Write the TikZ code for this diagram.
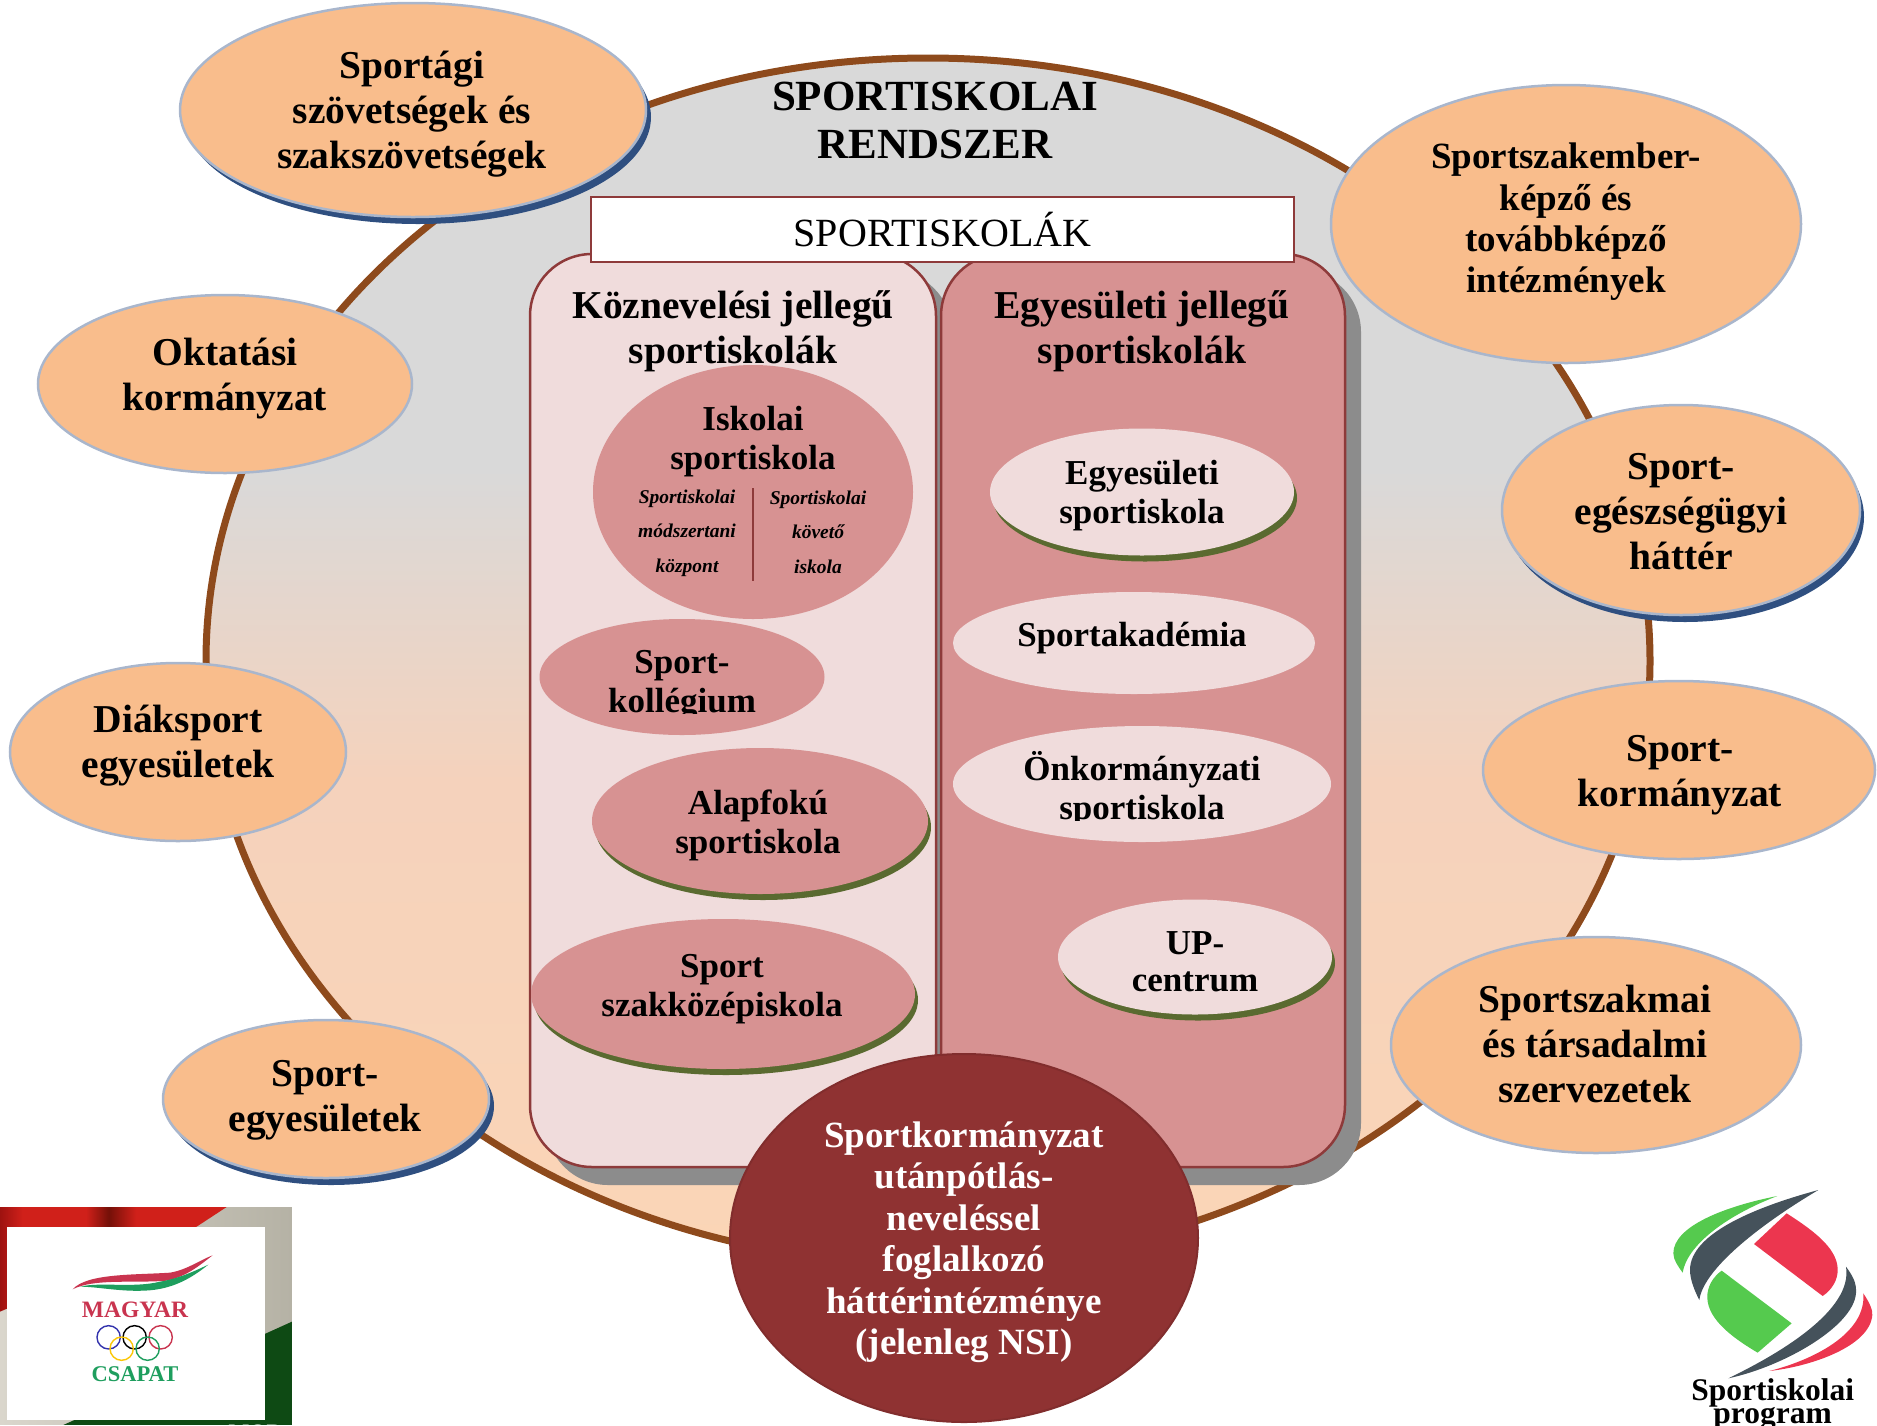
\documentclass[tikz,border=0pt]{standalone}
\usepackage{fontspec}
\setmainfont{Liberation Serif}
\usetikzlibrary{shapes.geometric}
\definecolor{brownring}{HTML}{8E4A1C}
\definecolor{peach}{HTML}{F9BD8C}
\definecolor{peachedge}{HTML}{A9B6CC}
\definecolor{navyshadow}{HTML}{2F4F80}
\definecolor{palepink}{HTML}{F0DCDC}
\definecolor{rose}{HTML}{D79292}
\definecolor{paneledge}{HTML}{8E3A3A}
\definecolor{darkred}{HTML}{8F3232}
\definecolor{olive}{HTML}{5A6A30}
\definecolor{ringA}{HTML}{FBD5B6}
\definecolor{ringB}{HTML}{F5D2BC}
\definecolor{ringC}{HTML}{D9D9D9}
\definecolor{rA}{HTML}{9E1210}
\definecolor{rB}{HTML}{D0201A}
\definecolor{rC}{HTML}{741008}
\definecolor{beigeA}{HTML}{DAD6CC}
\definecolor{beigeB}{HTML}{B5B2A5}
\definecolor{mobgreen}{HTML}{0E4A14}
\definecolor{mcred}{HTML}{C9344F}
\definecolor{mcgreen}{HTML}{1E9E5E}
\pgfdeclareverticalshading{ringfill}{100bp}{color(0bp)=(ringA); color(25bp)=(ringA); color(45bp)=(ringB); color(58bp)=(ringC); color(75bp)=(ringC); color(100bp)=(ringC)}
\pgfdeclarehorizontalshading{redband}{100bp}{color(0bp)=(rA); color(25bp)=(rA); color(30bp)=(rB); color(44bp)=(rB); color(49bp)=(rC); color(55bp)=(rB); color(75bp)=(rB); color(100bp)=(rB)}
\tikzset{
  x=1pt,y=-1pt,
  ell/.style={ellipse,inner sep=0pt,outer sep=0pt},
  outer/.style={ell,fill=peach,draw=peachedge,line width=2.5pt},
  navy/.style={ell,fill=navyshadow},
  oliveshadow/.style={ell,fill=olive},
  innerrose/.style={ell,fill=rose},
  innerpale/.style={ell,fill=palepink},
  lab/.style={align=center,inner sep=0pt,font=\fontsize{39.5}{45}\selectfont\bfseries},
  labsmall/.style={align=center,inner sep=0pt,font=\fontsize{35}{39}\selectfont\bfseries},
  labital/.style={align=center,inner sep=0pt,font=\fontsize{19.5}{34.5}\selectfont\bfseries\itshape},
  panel/.style={draw=paneledge,line width=2.5pt,rounded corners=62pt},
  panelshadow/.style={fill=black!45,rounded corners=62pt},
  ring/.style={draw=brownring,line width=7pt,shading=ringfill}
}
\begin{document}
\begin{tikzpicture}
\useasboundingbox (0,0) rectangle (1877,1425);
% main ring
\node[ell,ring,minimum width=1444pt,minimum height=1206pt] (ring) at (928,661) {};
% panels
\fill[panelshadow] (546,270) rectangle (952,1185);
\draw[panel,fill=palepink] (530,254) rectangle (936,1167);
\fill[panelshadow] (957,270) rectangle (1361,1185);
\draw[panel,fill=rose] (941,254) rectangle (1345,1167);
% header box
\node[draw=paneledge,fill=white,line width=2.5pt,minimum width=703pt,minimum height=65pt,inner sep=0pt,font=\fontsize{40}{45}\selectfont] (hdr) at (942.5,229.5) {SPORTISKOLÁK};
\node[align=center,inner sep=0pt,font=\fontsize{43}{48}\selectfont\bfseries] (title) at (935,120) {SPORTISKOLAI\\RENDSZER};
% panel headings
\node[lab] (kh) at (733,331) {Köznevelési jellegű\\sportiskolák};
\node[lab] (eh) at (1142,331) {Egyesületi jellegű\\sportiskolák};
% left inner
\node[innerrose,minimum width=320pt,minimum height=254pt] (isk) at (753,492) {};
\node[labsmall] (iskt) at (753,442) {Iskolai\\sportiskola};
\node[labital] (isa) at (687,533) {Sportiskolai\\módszertani\\központ};
\node[labital] (isb) at (818,532) {Sportiskolai\\követő\\iskola};
\coordinate (d1) at (753,488);
\coordinate (d2) at (753,581);
\draw[paneledge,line width=2pt] (d1) -- (d2);
\node[innerrose,minimum width=285pt,minimum height=116pt] (kol) at (682,677) {};
\begin{scope}
\clip (540,600) rectangle (830,713);
\node[labsmall] (kolt) at (682,685) {Sport-\\kollégium};
\end{scope}
\node[oliveshadow,minimum width=336pt,minimum height=146pt] (alaps) at (763,827) {};
\node[innerrose,minimum width=336pt,minimum height=146pt] (ala) at (760,821) {};
\node[labsmall] (alat) at (758,825) {Alapfokú\\sportiskola};
\node[oliveshadow,minimum width=384pt,minimum height=150pt] (szas) at (726,1000) {};
\node[innerrose,minimum width=384pt,minimum height=150pt] (sza) at (723,994) {};
\node[labsmall] (szat) at (722,989) {Sport\\szakközépiskola};
% right inner
\node[oliveshadow,minimum width=304pt,minimum height=127pt] (egys) at (1145,498) {};
\node[innerpale,minimum width=304pt,minimum height=127pt] (egy) at (1142,492) {};
\node[labsmall] (egyt) at (1142,496) {Egyesületi\\sportiskola};
\node[innerpale,minimum width=362pt,minimum height=102pt] (aka) at (1134,643) {};
\node[labsmall] (akat) at (1132,638) {Sportakadémia};
\node[innerpale,minimum width=378pt,minimum height=116pt] (onk) at (1142,784) {};
\begin{scope}
\clip (960,730) rectangle (1330,820);
\node[labsmall] (onkt) at (1142,789) {Önkormányzati\\sportiskola};
\end{scope}
\node[oliveshadow,minimum width=274pt,minimum height=115pt] (ups) at (1198,963) {};
\node[innerpale,minimum width=274pt,minimum height=115pt] (up) at (1195,957) {};
\node[labsmall,font=\fontsize{35}{37}\selectfont\bfseries] (upt) at (1195,962) {UP-\\centrum};
% outer ellipses
\node[navy,minimum width=466pt,minimum height=214pt] (sps) at (418,117) {};
\node[outer,minimum width=466pt,minimum height=214pt] (sp) at (413,110) {};
\node[lab] (spt) at (412,114) {Sportági\\szövetségek és\\szakszövetségek};
\node[outer,minimum width=470pt,minimum height=278pt] (szk) at (1566,224) {};
\node[labsmall,font=\fontsize{37}{41.3}\selectfont\bfseries] (szkt) at (1566,222) {Sportszakember-\\képző és\\továbbképző\\intézmények};
\node[outer,minimum width=374pt,minimum height=178pt] (okt) at (225,384) {};
\node[lab] (oktt) at (225,379) {Oktatási\\kormányzat};
\node[navy,minimum width=358pt,minimum height=210pt] (ees) at (1685,517) {};
\node[outer,minimum width=358pt,minimum height=210pt] (ee) at (1681,510) {};
\node[lab] (eet) at (1681,512) {Sport-\\egészségügyi\\háttér};
\node[outer,minimum width=336pt,minimum height=178pt] (dia) at (178,752) {};
\node[lab] (diat) at (178,746) {Diáksport\\egyesületek};
\node[outer,minimum width=392pt,minimum height=178pt] (kor) at (1679,770) {};
\node[lab] (kort) at (1680,775) {Sport-\\kormányzat};
\node[navy,minimum width=326pt,minimum height=158pt] (egs) at (331,1106) {};
\node[outer,minimum width=326pt,minimum height=158pt] (eg) at (326,1099) {};
\node[lab] (egt) at (325,1100) {Sport-\\egyesületek};
\node[outer,minimum width=410pt,minimum height=216pt] (tar) at (1596,1045) {};
\node[lab] (tart) at (1595,1044) {Sportszakmai\\és társadalmi\\szervezetek};
% central dark
\node[ell,fill=darkred,draw=darkred!90!black,line width=2pt,minimum width=468pt,minimum height=368pt] (nsi) at (964,1238) {};
\node[align=center,inner sep=0pt,text=white,font=\fontsize{37}{41.5}\selectfont\bfseries] (nsit) at (964,1242) {Sportkormányzat\\utánpótlás-\\neveléssel\\foglalkozó\\háttérintézménye\\(jelenleg NSI)};
% Magyar Csapat logo
\begin{scope}[shift={(0,1180)},x=0.3333pt,y=-0.3333pt]
\shade[left color=beigeA,right color=beigeB] (0,81) rectangle (876,735);
\shade[shading=redband] (0,81) -- (680,81) -- (590,140) -- (0,395) -- cycle;
\fill[mobgreen] (876,425) -- (876,735) -- (190,735) -- cycle;
\fill[white] (21,140) rectangle (795,720);
\fill[mcred] (218,328) .. controls (260,280) and (400,285) .. (510,278) .. controls (560,270) and (600,240) .. (638,226) .. controls (600,255) and (560,290) .. (500,302) .. controls (400,310) and (280,295) .. (218,328) -- cycle;
\fill[mcgreen] (240,320) .. controls (300,305) and (400,325) .. (480,305) .. controls (540,295) and (590,270) .. (625,254) .. controls (580,290) and (520,330) .. (430,332) .. controls (360,335) and (290,320) .. (240,320) -- cycle;
\node[inner sep=0pt,text=mcred,font=\fontsize{23.5}{24}\selectfont\bfseries] (mag) at (405,388) {MAGYAR};
\node[inner sep=0pt,text=mcgreen,font=\fontsize{22.5}{24}\selectfont\bfseries] (csa) at (405,582) {CSAPAT};
\draw[blue!60!black!80!white,line width=1.4pt] (326,472) ellipse[x radius=35,y radius=35];
\draw[black,line width=1.4pt] (404,472) ellipse[x radius=35,y radius=35];
\draw[mcred,line width=1.4pt] (482,472) ellipse[x radius=35,y radius=35];
\draw[yellow!60!orange,line width=1.4pt] (365,506) ellipse[x radius=35,y radius=35];
\draw[mcgreen,line width=1.4pt] (443,506) ellipse[x radius=35,y radius=35];
\node[inner sep=0pt,text=white,font=\fontsize{22}{24}\selectfont\bfseries] (mob) at (765,756) {MOB};
\end{scope}
% Sportiskolai program logo
\begin{scope}[shift={(1640,1170)},x=0.3333pt,y=-0.3333pt]
\definecolor{lg}{HTML}{55CA4E}
\definecolor{ld}{HTML}{45525B}
\definecolor{lr}{HTML}{EC364F}
\fill[lg] (412,78) .. controls (250,110) and (100,170) .. (100,250) .. controls (100,270) and (115,290) .. (128,308) .. controls (140,230) and (250,140) .. (412,78) -- cycle;
\fill[ld] (535,60) .. controls (350,110) and (150,190) .. (150,300) .. controls (150,330) and (165,365) .. (178,390) .. controls (190,300) and (350,170) .. (535,60) -- cycle;
\fill[lr] (440,130) -- (342,222) -- (548,378) .. controls (575,360) and (595,330) .. (593,295) .. controls (590,230) and (510,175) .. (440,130) -- cycle;
\fill[lg] (245,302) -- (455,460) -- (353,548) .. controls (280,505) and (205,450) .. (202,385) .. controls (200,350) and (220,320) .. (245,302) -- cycle;
\fill[ld] (618,290) .. controls (640,320) and (650,340) .. (648,370) .. controls (640,470) and (430,590) .. (265,625) .. controls (420,550) and (640,420) .. (618,290) -- cycle;
\fill[lr] (670,370) .. controls (690,400) and (698,420) .. (697,435) .. controls (690,530) and (510,590) .. (388,603) .. controls (520,570) and (680,490) .. (670,370) -- cycle;
\node[inner sep=0pt,font=\fontsize{31.5}{31}\selectfont\bfseries] (prog) at (398,668) {Sportiskolai};
\node[inner sep=0pt,font=\fontsize{31.5}{31}\selectfont\bfseries] (prog2) at (398,747) {program};
\end{scope}
\end{tikzpicture}
\end{document}
